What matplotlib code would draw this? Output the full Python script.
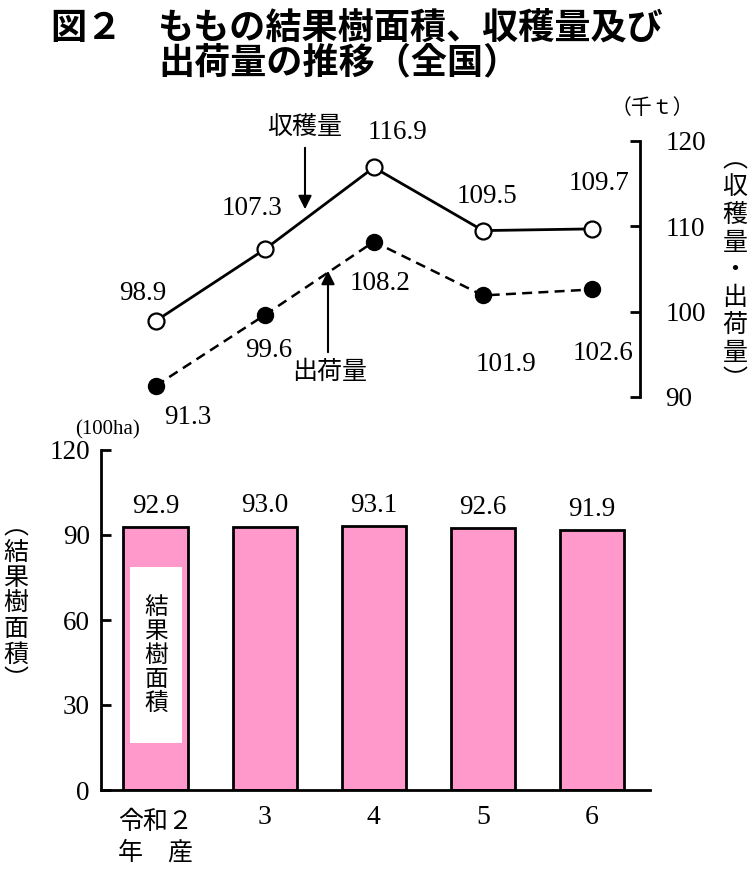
import numpy as np
import matplotlib.pyplot as plt
from matplotlib.patches import Rectangle

# データ
years = ["令和２\n年　産", "3", "4", "5", "6"]
harvest = [98.9, 107.3, 116.9, 109.5, 109.7]     # 収穫量 (千t)
shipped = [91.3, 99.6, 108.2, 101.9, 102.6]      # 出荷量 (千t)
area = [92.9, 93.0, 93.1, 92.6, 91.9]            # 結果樹面積 (100ha)

# ラベル位置 (ピクセルオフセット)
harvest_off = [(-13, 28), (-13, 41), (24, 35), (4, 34), (7, 45)]
shipped_off = [(32, -32), (4, -35), (6, -42), (23, -69), (11, -64)]

W, H = 755, 875
JP = ["Noto Sans CJK JP", "DejaVu Sans"]
SERIF = "Liberation Serif"
NUM = 19.5
plt.rcParams['font.family'] = JP

fig = plt.figure(figsize=(W / 100, H / 100), dpi=100)

def fx(x):
    return x / W

def fy(y):
    return 1 - y / H

x = np.arange(len(years))

# タイトル
fig.text(fx(50), fy(28), "図２", fontsize=26, fontweight="bold", va="center", ha="left")
fig.text(fx(158), fy(28), "ももの結果樹面積、収穫量及び", fontsize=26,
         fontweight="bold", va="center", ha="left")
fig.text(fx(158), fy(63), "出荷量の推移（全国）", fontsize=26,
         fontweight="bold", va="center", ha="left")

# ---- 上段: 折れ線 ----
ax1 = fig.add_axes([fx(101), fy(397), (650 - 101) / W, (397 - 141) / H])
ax1.set_xlim(-0.5, 4.53)
ax1.set_ylim(90, 120)
ax1.patch.set_alpha(0)
for s in ["left", "top", "bottom"]:
    ax1.spines[s].set_visible(False)
ax1.spines["right"].set_position(("data", 4.44))
ax1.spines["right"].set_linewidth(2)
ax1.yaxis.tick_right()
ax1.set_yticks([90, 100, 110, 120])
ax1.tick_params(axis="y", direction="in", length=7, width=2, pad=18, labelsize=NUM)
for lb in ax1.get_yticklabels():
    lb.set_family(SERIF)
ax1.set_xticks([])

ax1.plot(x, harvest, "-", color="black", lw=2, marker="o", ms=11.5,
         mfc="white", mec="black", mew=1.6, clip_on=False, zorder=3)
ax1.plot(x, shipped, "--", color="black", lw=1.8, dashes=(4, 2.5), marker="o", ms=11.5,
         mfc="black", mec="black", clip_on=False, zorder=3)

for xi, v, (dx, dy) in zip(x, harvest, harvest_off):
    ax1.annotate(f"{v:.1f}", (xi, v), xytext=(dx, dy), textcoords="offset pixels",
                 ha="center", va="center", fontsize=NUM, family=SERIF, annotation_clip=False)
for xi, v, (dx, dy) in zip(x, shipped, shipped_off):
    ax1.annotate(f"{v:.1f}", (xi, v), xytext=(dx, dy), textcoords="offset pixels",
                 ha="center", va="center", fontsize=NUM, family=SERIF, annotation_clip=False)

# 矢印付きラベル
fig.text(fx(305), fy(127), "収穫量", fontsize=18, ha="center", va="center")
ax1.annotate("", xy=(fx(305), fy(212)), xytext=(fx(305), fy(145)),
             xycoords="figure fraction", textcoords="figure fraction",
             arrowprops=dict(arrowstyle="-|>", color="black", lw=1.5, mutation_scale=20))
fig.text(fx(330), fy(372), "出荷量", fontsize=18, ha="center", va="center")
ax1.annotate("", xy=(fx(328), fy(268)), xytext=(fx(328), fy(355)),
             xycoords="figure fraction", textcoords="figure fraction",
             arrowprops=dict(arrowstyle="-|>", color="black", lw=1.5, mutation_scale=20))

fig.text(fx(652), fy(108), "（千ｔ）", fontsize=15, ha="center", va="center")
right_label = "︵収穫量・出荷量︶"
for i, ch in enumerate(right_label):
    fig.text(fx(735), fy(160 + i * 27.5), ch, fontsize=18, ha="center", va="center")

# ---- 下段: 棒グラフ ----
ax2 = fig.add_axes([fx(101), fy(790), (650 - 101) / W, (790 - 450) / H])
ax2.set_xlim(-0.5, 4.53)
ax2.set_ylim(0, 120)
ax2.bar(x, area, width=0.59, color="#FF99CC", edgecolor="black", linewidth=2, zorder=2)
for s in ["right", "top"]:
    ax2.spines[s].set_visible(False)
ax2.spines["left"].set_linewidth(2)
ax2.spines["bottom"].set_linewidth(2)
ax2.set_yticks([0, 30, 60, 90, 120])
ax2.tick_params(axis="y", direction="in", length=7, width=2, pad=8, labelsize=NUM)
for lb in ax2.get_yticklabels():
    lb.set_family(SERIF)
ax2.set_xticks(x)
ax2.set_xticklabels([])
ax2.tick_params(axis="x", length=0)

for xi, v in zip(x, area):
    ax2.annotate(f"{v:.1f}", (xi, v), xytext=(0, 8), textcoords="offset pixels",
                 ha="center", va="bottom", fontsize=NUM, family=SERIF)

trans = ax2.get_xaxis_transform()
first = years[0].split("\n")
ax2.text(x[0], -0.055, first[0], transform=trans, ha="center", va="top", fontsize=18)
ax2.text(x[0], -0.145, first[1], transform=trans, ha="center", va="top", fontsize=18)
for xi, lab in zip(x[1:], years[1:]):
    ax2.text(xi, -0.045, lab, transform=trans, ha="center", va="top", fontsize=20, family=SERIF)

# 棒の中の凡例ボックス
ax2.add_patch(Rectangle((-0.23, 16.6), 0.47, 62.1, facecolor="white", edgecolor="none", zorder=3))
for i, ch in enumerate("結果樹面積"):
    fig.text(fx(156), fy(607 + i * 24), ch, fontsize=17, ha="center", va="center", zorder=4)

fig.text(fx(107), fy(430), "(100ha)", fontsize=15, family=SERIF, ha="center", va="center")
left_label = "︵結果樹面積︶"
for i, ch in enumerate(left_label):
    fig.text(fx(16), fy(527 + i * 25.5), ch, fontsize=18, ha="center", va="center")

fig.savefig("out.png", dpi=100)
